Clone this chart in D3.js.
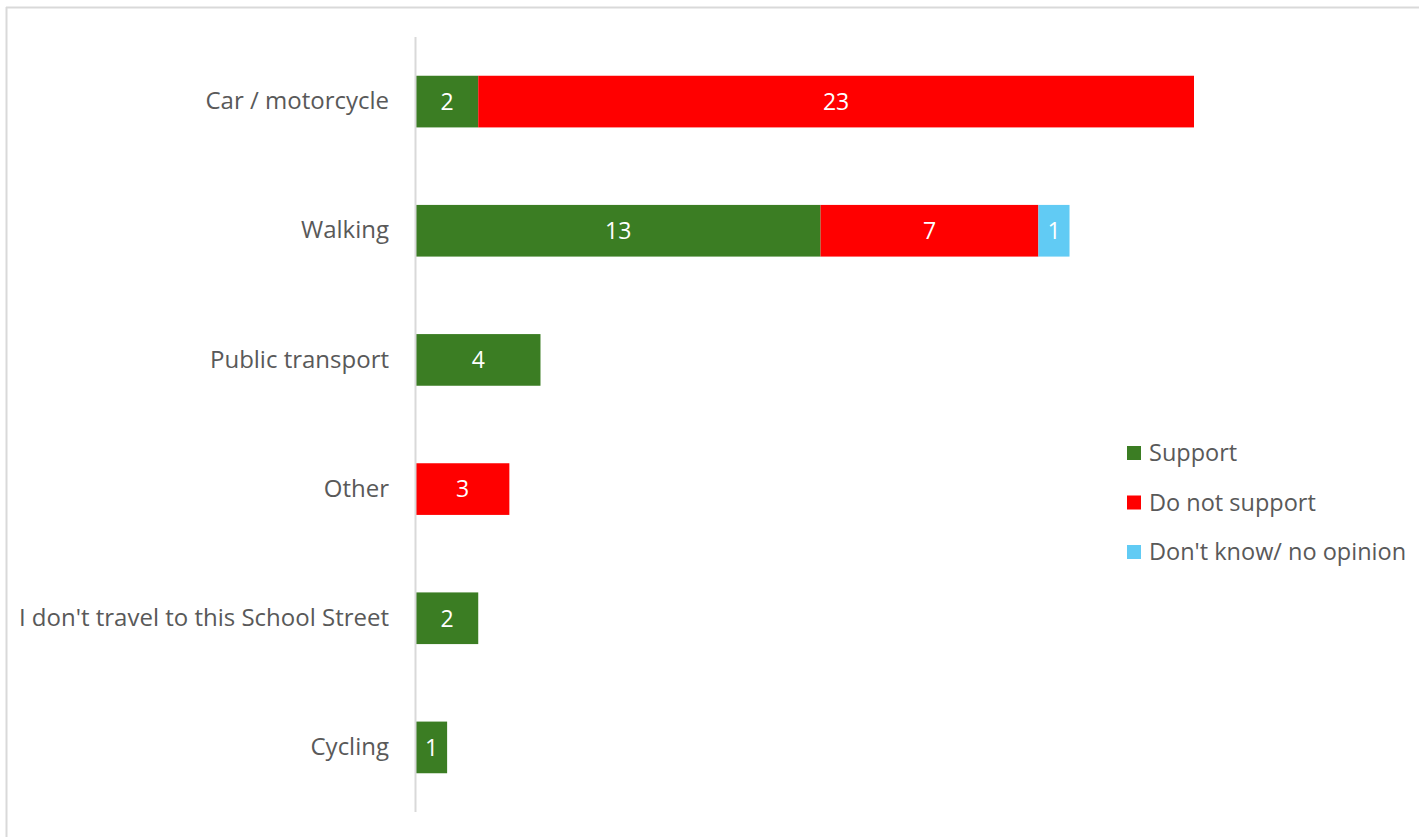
<!DOCTYPE html>
<html>
<head>
<meta charset="utf-8">
<script src="https://cdn.jsdelivr.net/npm/d3@7"></script>
<style>
  body { margin: 0; background: #fff; }
  svg { display: block; font-family: "Open Sans", Roboto, sans-serif; }
</style>
</head>
<body>
<div id="chart"></div>
<script>
// categories top to bottom
const modes = ["Car / motorcycle", "Walking", "Public transport", "Other", "I don't travel to this School Street", "Cycling"];
const seriesNames = ["Support", "Do not support", "Don't know/ no opinion"];
const support = [2, 13, 4, 0, 2, 1];
const notSupport = [23, 7, 0, 3, 0, 0];
const dontKnow = [0, 1, 0, 0, 0, 0];
const colors = ["#3b7d23", "#ff0000", "#61cbf4"];

const width = 1419, height = 837;
const margin = {top: 37, bottom: 25, left: 416, right: 225};

const svg = d3.select("#chart")
    .append("svg")
    .attr("width", width)
    .attr("height", height);

// frame (only top and left edges visible)
svg.append("line")
    .attr("x1", 6).attr("x2", width).attr("y1", 7.5).attr("y2", 7.5)
    .attr("stroke", "#d9d9d9").attr("stroke-width", 2);
svg.append("line")
    .attr("x1", 6.5).attr("x2", 6.5).attr("y1", 7).attr("y2", height)
    .attr("stroke", "#d9d9d9").attr("stroke-width", 2);

const table = modes.map((m, i) => ({
    mode: m,
    "Support": support[i],
    "Do not support": notSupport[i],
    "Don't know/ no opinion": dontKnow[i]
}));

const stacked = d3.stack().keys(seriesNames)(table);

const x = d3.scaleLinear()
    .domain([0, 25])
    .range([margin.left, width - margin.right]);

const y = d3.scaleBand()
    .domain(modes)
    .range([margin.top, height - margin.bottom])
    .paddingInner(0.6)
    .paddingOuter(0.3);

const color = d3.scaleOrdinal().domain(seriesNames).range(colors);

// bars
stacked.forEach(layer => {
    const g = svg.append("g");
    layer.forEach(d => {
        const v = d[1] - d[0];
        if (v <= 0) return;
        g.append("rect")
            .attr("x", x(d[0]))
            .attr("y", y(d.data.mode))
            .attr("width", x(d[1]) - x(d[0]))
            .attr("height", y.bandwidth())
            .attr("fill", color(layer.key));
        g.append("text")
            .attr("x", (x(d[0]) + x(d[1])) / 2)
            .attr("y", y(d.data.mode) + y.bandwidth() / 2)
            .attr("dy", "0.36em")
            .attr("text-anchor", "middle")
            .attr("fill", "#fff")
            .style("font-size", "23px")
            .text(v);
    });
});

// category axis
const yAxis = svg.append("g")
    .attr("transform", `translate(${margin.left - 1},0)`)
    .call(d3.axisLeft(y).tickSize(0).tickPadding(26));
yAxis.select(".domain")
    .attr("stroke", "#d9d9d9")
    .attr("stroke-width", 2)
    .attr("d", `M0.5,${margin.top}V${height - margin.bottom}`);
yAxis.selectAll("text")
    .attr("fill", "#595959")
    .style("font-size", "24px")
    .style("font-family", "'Open Sans', Roboto, sans-serif");

// legend
const legend = svg.append("g")
    .attr("transform", "translate(1127,453)");
seriesNames.forEach((s, i) => {
    legend.append("rect")
        .attr("x", 0)
        .attr("y", i * 49.5 - 7)
        .attr("width", 14)
        .attr("height", 14)
        .attr("fill", color(s));
    legend.append("text")
        .attr("x", 22)
        .attr("y", i * 49.5)
        .attr("dy", "0.35em")
        .attr("fill", "#595959")
        .style("font-size", "23.5px")
        .text(s);
});
</script>
</body>
</html>
